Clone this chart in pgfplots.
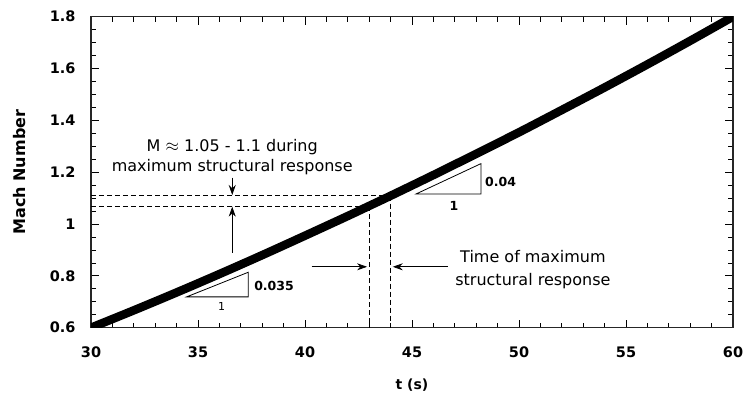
\documentclass[border=0pt]{standalone}
\usepackage{pgfplots}
\pgfplotsset{compat=1.18}
\usepackage{fontspec}
\setmainfont{DejaVu Sans}
\usetikzlibrary{arrows.meta}
\begin{document}
\begin{tikzpicture}
\begin{axis}[
  width=642pt, height=311pt, scale only axis,
  xmin=30, xmax=60, ymin=0.6, ymax=1.8,
  xtick={30,35,40,45,50,55,60}, minor x tick num=4,
  ytick={0.6,0.8,1,1.2,1.4,1.6,1.8}, minor y tick num=3,
  xticklabels={30,35,40,45,50,55,60},
  yticklabels={0.6,0.8,1,1.2,1.4,1.6,1.8},
  tick align=inside, major tick length=8pt, minor tick length=5pt,
  every tick/.style={black, line width=0.8pt},
  axis line style={line width=1.2pt, black!85},
  ticklabel style={font=\fontsize{14.5}{16}\selectfont\bfseries},
  xticklabel style={anchor=base, yshift=-30pt},
  yticklabel style={anchor=east, xshift=-12pt},
  xlabel={t (s)}, ylabel={Mach Number},
  xlabel style={font=\fontsize{14}{16}\selectfont\bfseries, at={(axis description cs:0.5,-0.183)}, anchor=center},
  ylabel style={font=\fontsize{16}{18}\selectfont\bfseries, at={(axis description cs:-0.1106,0.5)}, anchor=center, rotate=0},
  clip=true,
]
\addplot[black, line width=8.5pt, smooth] coordinates {
(30,0.600) (32,0.667) (34,0.736) (36,0.807) (38,0.880) (40,0.955)
(42,1.031) (43,1.070) (44,1.109) (46,1.189) (48,1.271) (50,1.354)
(52,1.440) (54,1.527) (56,1.616) (58,1.707) (60,1.800)
};
% dashed guide lines
\draw[line width=0.8pt, dash pattern=on 5pt off 3pt] (axis cs:30,1.069) -- (axis cs:43,1.069);
\draw[line width=0.8pt, dash pattern=on 5pt off 3pt] (axis cs:30,1.110) -- (axis cs:44,1.110);
\draw[line width=0.8pt, dash pattern=on 5pt off 3pt] (axis cs:43,1.069) -- (axis cs:43,0.6);
\draw[line width=0.8pt, dash pattern=on 5pt off 3pt] (axis cs:44,1.110) -- (axis cs:44,0.6);
% Mach annotation
\node[align=center, font=\fontsize{16}{20}\selectfont] at (axis cs:36.6,1.26) {M $\approx$ 1.05 - 1.1 during\\maximum structural response};
\draw[line width=0.8pt, -{Stealth[length=10pt,width=7pt]}] (axis cs:36.6,1.179) -- (axis cs:36.6,1.112);
\draw[line width=0.8pt, -{Stealth[length=10pt,width=7pt]}] (axis cs:36.6,0.889) -- (axis cs:36.6,1.067);
% time annotation
\draw[line width=0.8pt, -{Stealth[length=10pt,width=7pt]}] (axis cs:40.31,0.835) -- (axis cs:42.9,0.835);
\draw[line width=0.8pt, -{Stealth[length=10pt,width=7pt]}] (axis cs:46.68,0.835) -- (axis cs:44.1,0.835);
\node[align=center, font=\fontsize{16}{23}\selectfont] at (axis cs:50.65,0.826) {Time of maximum\\structural response};
% slope triangles
\draw[line width=0.8pt] (axis cs:34.47,0.719) -- (axis cs:37.35,0.719) -- (axis cs:37.35,0.814) -- cycle;
\node[anchor=west, inner sep=0pt, font=\fontsize{12.5}{14}\selectfont\bfseries] at (axis cs:37.62,0.763) {0.035};
\node[font=\fontsize{11}{13}\selectfont] at (axis cs:36.1,0.683) {1};
\draw[line width=0.8pt] (axis cs:45.19,1.116) -- (axis cs:48.22,1.116) -- (axis cs:48.22,1.233) -- cycle;
\node[anchor=west, inner sep=0pt, font=\fontsize{12.5}{14}\selectfont\bfseries] at (axis cs:48.41,1.164) {0.04};
\node[font=\fontsize{12.5}{14}\selectfont\bfseries] at (axis cs:46.96,1.071) {1};
\end{axis}
\pgfresetboundingbox
\path ([shift={(-91pt,-79pt)}]current axis.south west) rectangle ([shift={(13pt,16.7pt)}]current axis.north east);
\end{tikzpicture}
\end{document}
